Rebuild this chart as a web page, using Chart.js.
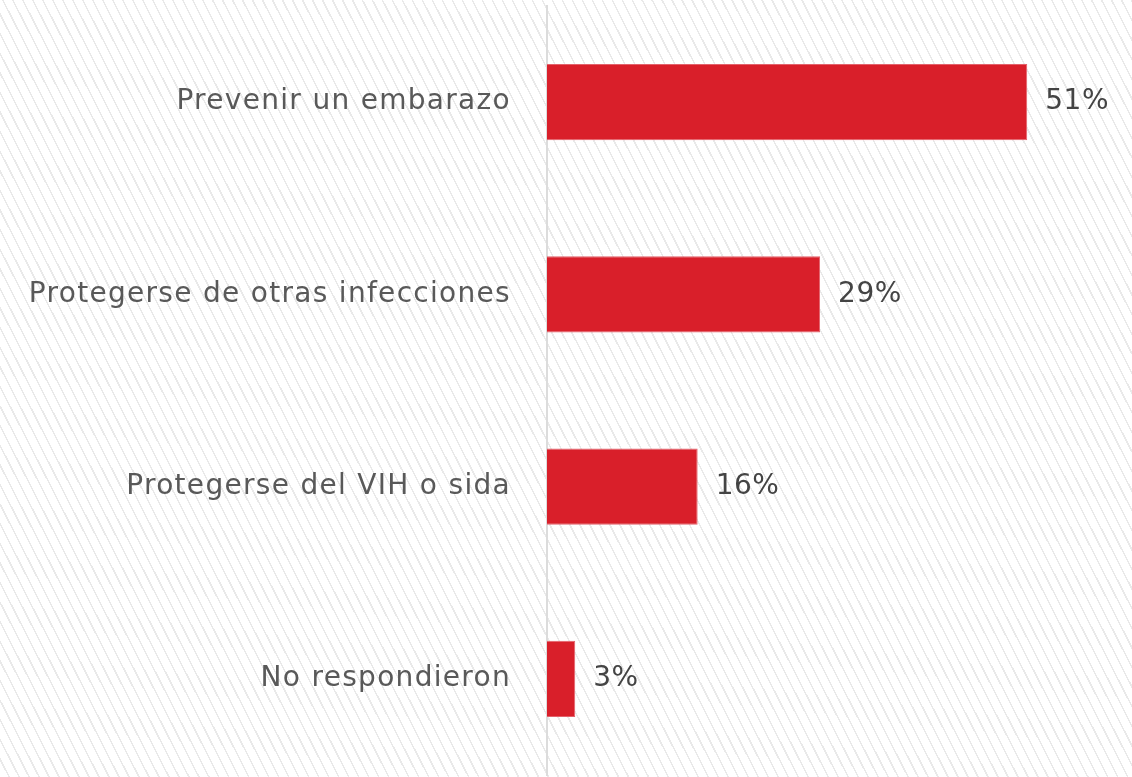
<!DOCTYPE html>
<html>
<head>
<meta charset="utf-8">
<script src="https://cdn.jsdelivr.net/npm/chart.js@4"></script>
<style>
  html, body { margin: 0; padding: 0; }
  body {
    width: 1132px; height: 777px; overflow: hidden;
    background-color: #ffffff;
    background-image: repeating-linear-gradient(63deg, #ffffff 0px, #ffffff 7.4px, #e9e9e9 7.4px, #e9e9e9 8.9px);
  }
  #wrap { position: relative; width: 1132px; height: 777px; }
</style>
</head>
<body>
<div id="wrap"><canvas id="c" width="1132" height="777"></canvas></div>
<script>
const categories = ["Prevenir un embarazo", "Protegerse de otras infecciones", "Protegerse del VIH o sida", "No respondieron"];
const values = [51, 29, 16, 3];
const valueLabels = ["51%", "29%", "16%", "3%"];

const FONT = "'DejaVu Sans', sans-serif";

const spacingPlugin = {
  id: 'spacing',
  beforeDraw(chart) { chart.ctx.letterSpacing = '1.3px'; },
  afterDraw(chart) { chart.ctx.letterSpacing = '0px'; }
};

const valueLabelPlugin = {
  id: 'valueLabels',
  afterDatasetsDraw(chart) {
    const ctx = chart.ctx;
    const meta = chart.getDatasetMeta(0);
    ctx.save();
    ctx.letterSpacing = '0.5px';
    ctx.font = "28px " + FONT;
    ctx.fillStyle = "#444444";
    ctx.textAlign = "left";
    ctx.textBaseline = "middle";
    meta.data.forEach((bar, i) => {
      ctx.fillText(valueLabels[i], bar.x + 18, bar.y);
    });
    ctx.restore();
  }
};

new Chart(document.getElementById('c'), {
  type: 'bar',
  data: {
    labels: categories,
    datasets: [{
      data: values,
      backgroundColor: '#d91f2a',
      borderColor: '#e3616a',
      borderWidth: 1,
      categoryPercentage: 1,
      barPercentage: 0.396
    }]
  },
  options: {
    indexAxis: 'y',
    responsive: false,
    animation: false,
    layout: { padding: { top: 6, bottom: 2, right: 20, left: 0 } },
    plugins: { legend: { display: false }, tooltip: { enabled: false } },
    scales: {
      x: { display: false, min: 0, max: 60 },
      y: {
        afterFit(scale) { scale.width = 547; scale.paddingTop = 0; scale.paddingBottom = 0; },
        grid: { display: false },
        border: { display: true, color: '#dcdcdc', width: 2 },
        ticks: {
          padding: 28,
          color: '#595959',
          font: { family: FONT, size: 28 }
        }
      }
    }
  },
  plugins: [spacingPlugin, valueLabelPlugin]
});
</script>
</body>
</html>
